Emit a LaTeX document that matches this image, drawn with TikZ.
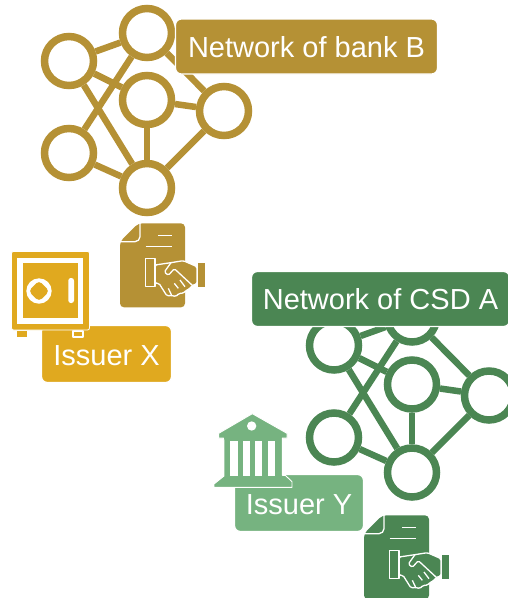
\documentclass[tikz,border=0pt]{standalone}
\usepackage{fontspec}
\setmainfont{Liberation Sans}
\definecolor{bankgold}{HTML}{B59135}
\definecolor{issueramber}{HTML}{E0A91F}
\definecolor{csdgreen}{HTML}{4B8653}
\definecolor{issuergreen}{HTML}{76B380}
\tikzset{
  hub/.style={circle,draw=#1,line width=7.5pt,minimum size=49pt,inner sep=0pt},
  link/.style={draw=#1,line width=6.5pt},
  tag/.style={rectangle,rounded corners=6pt,fill=#1,draw=white,line width=1.2pt,text=white,inner sep=0pt,align=center,text height=22pt,text depth=0pt,font=\fontsize{29}{32}\selectfont},
  whiteline/.style={draw=white,line width=1.3pt,line join=round}
}
\newcommand{\netgraph}[4]{%
  \begin{scope}[shift={(#2,#3)},name prefix=#1-]
    \node[hub=#4] (top) at (147,33) {};
    \node[hub=#4] (lt) at (69,61) {};
    \node[hub=#4] (mid) at (147,100) {};
    \node[hub=#4] (rt) at (224,111) {};
    \node[hub=#4] (lb) at (69,153) {};
    \node[hub=#4] (bot) at (147,188) {};
    \draw[link=#4] (top) -- (lt);
    \draw[link=#4] (top) -- (lb);
    \draw[link=#4] (top) -- (rt);
    \draw[link=#4] (lt) -- (mid);
    \draw[link=#4] (lt) -- (bot);
    \draw[link=#4] (mid) -- (rt);
    \draw[link=#4] (mid) -- (bot);
    \draw[link=#4] (rt) -- (bot);
    \draw[link=#4] (lb) -- (bot);
  \end{scope}}
\newcommand{\deedicon}[3]{%
  \begin{scope}[shift={(#1,#2)},x=.33333pt,y=-.33333pt]
    \fill[#3,rounded corners=4pt] (70,10) -- (210,10) -- (210,262) -- (15,262) -- (15,65) -- cycle;
    \draw[whiteline,rounded corners=5pt] (75,8) -- (75,65) -- (12,65);
    \draw[whiteline] (130,47) -- (170,47);
    \draw[whiteline] (92,80) -- (172,80);
    \fill[#3] (250,128) rectangle (270,202);
    \filldraw[#3,whiteline,fill=#3,rounded corners=1.5pt] (120,135) -- (168,128) -- (205,122) -- (246,140) -- (246,192) -- (232,196)
      -- (224,206) -- (212,212) -- (205,220) -- (192,220) -- (182,230) -- (170,226) -- (156,228) -- (132,190) -- (120,190) -- cycle;
    \draw[whiteline,rounded corners=1.5pt] (168,128) -- (148,156) -- (160,166) -- (178,146) -- (232,196);
    \draw[whiteline] (178,190) -- (190,205) (195,180) -- (210,200) (160,205) -- (170,226);
    \filldraw[#3,whiteline,fill=#3] (92,115) rectangle (120,200);
  \end{scope}}
\begin{document}
\begin{tikzpicture}[x=1pt,y=-1pt]
\useasboundingbox (0,0) rectangle (508,598);
\netgraph{gold}{0}{0}{bankgold}
\netgraph{green}{265}{284.5}{csdgreen}
\node[tag=bankgold,minimum width=262pt,minimum height=55pt] (labelbank) at (306.5,46.5) {Network of bank B};
\node[tag=csdgreen,minimum width=258pt,minimum height=55pt,text height=20pt] (labelcsd) at (380.5,299) {Network of CSD A};
\node[tag=issueramber,minimum width=130pt,minimum height=57pt] (labelx) at (106.5,354) {Issuer X};
\node[tag=issuergreen,minimum width=129pt,minimum height=57pt] (labely) at (299,503) {Issuer Y};
% safe
\fill[issueramber] (17.3,331) rectangle (26.7,337);
\filldraw[issueramber,whiteline,fill=issueramber] (73,331) rectangle (83,337);
\filldraw[draw=white,line width=.8pt,fill=issueramber,rounded corners=2pt] (11.5,251.5) rectangle (89.5,330);
\fill[white] (17.3,258) rectangle (83.3,324);
\fill[issueramber] (22.7,263) rectangle (77.7,318);
\fill[white] (39,291) circle (12.7);
\fill[issueramber,rounded corners=4pt] (39,280.5) -- (49.5,291) -- (39,301.5) -- (28.5,291) -- cycle;
\fill[white,rounded corners=2.5pt] (68.3,278) rectangle (74,303);
% deeds
\deedicon{115}{220}{bankgold}
\deedicon{359}{512}{csdgreen}
% bank building
\begin{scope}[shift={(210,410)},x=.33333pt,y=-.33333pt]
  \filldraw[draw=white,line width=.9pt,fill=issuergreen,line join=round]
    (127,11) -- (231,70) -- (231,84) -- (217,84) -- (217,92) -- (217,196) -- (226,196) -- (246,215) -- (246,232) -- (12,232) -- (12,222) -- (42,198)
    -- (42,92) -- (40,84) -- (26,84) -- (26,70) -- cycle;
  \fill[white] (125,48) circle (14);
  \fill[white] (60,93) rectangle (83,198);
  \fill[white] (98,93) rectangle (120,198);
  \fill[white] (136,93) rectangle (157,198);
  \fill[white] (174,93) rectangle (195,198);
\end{scope}
\end{tikzpicture}
\end{document}
